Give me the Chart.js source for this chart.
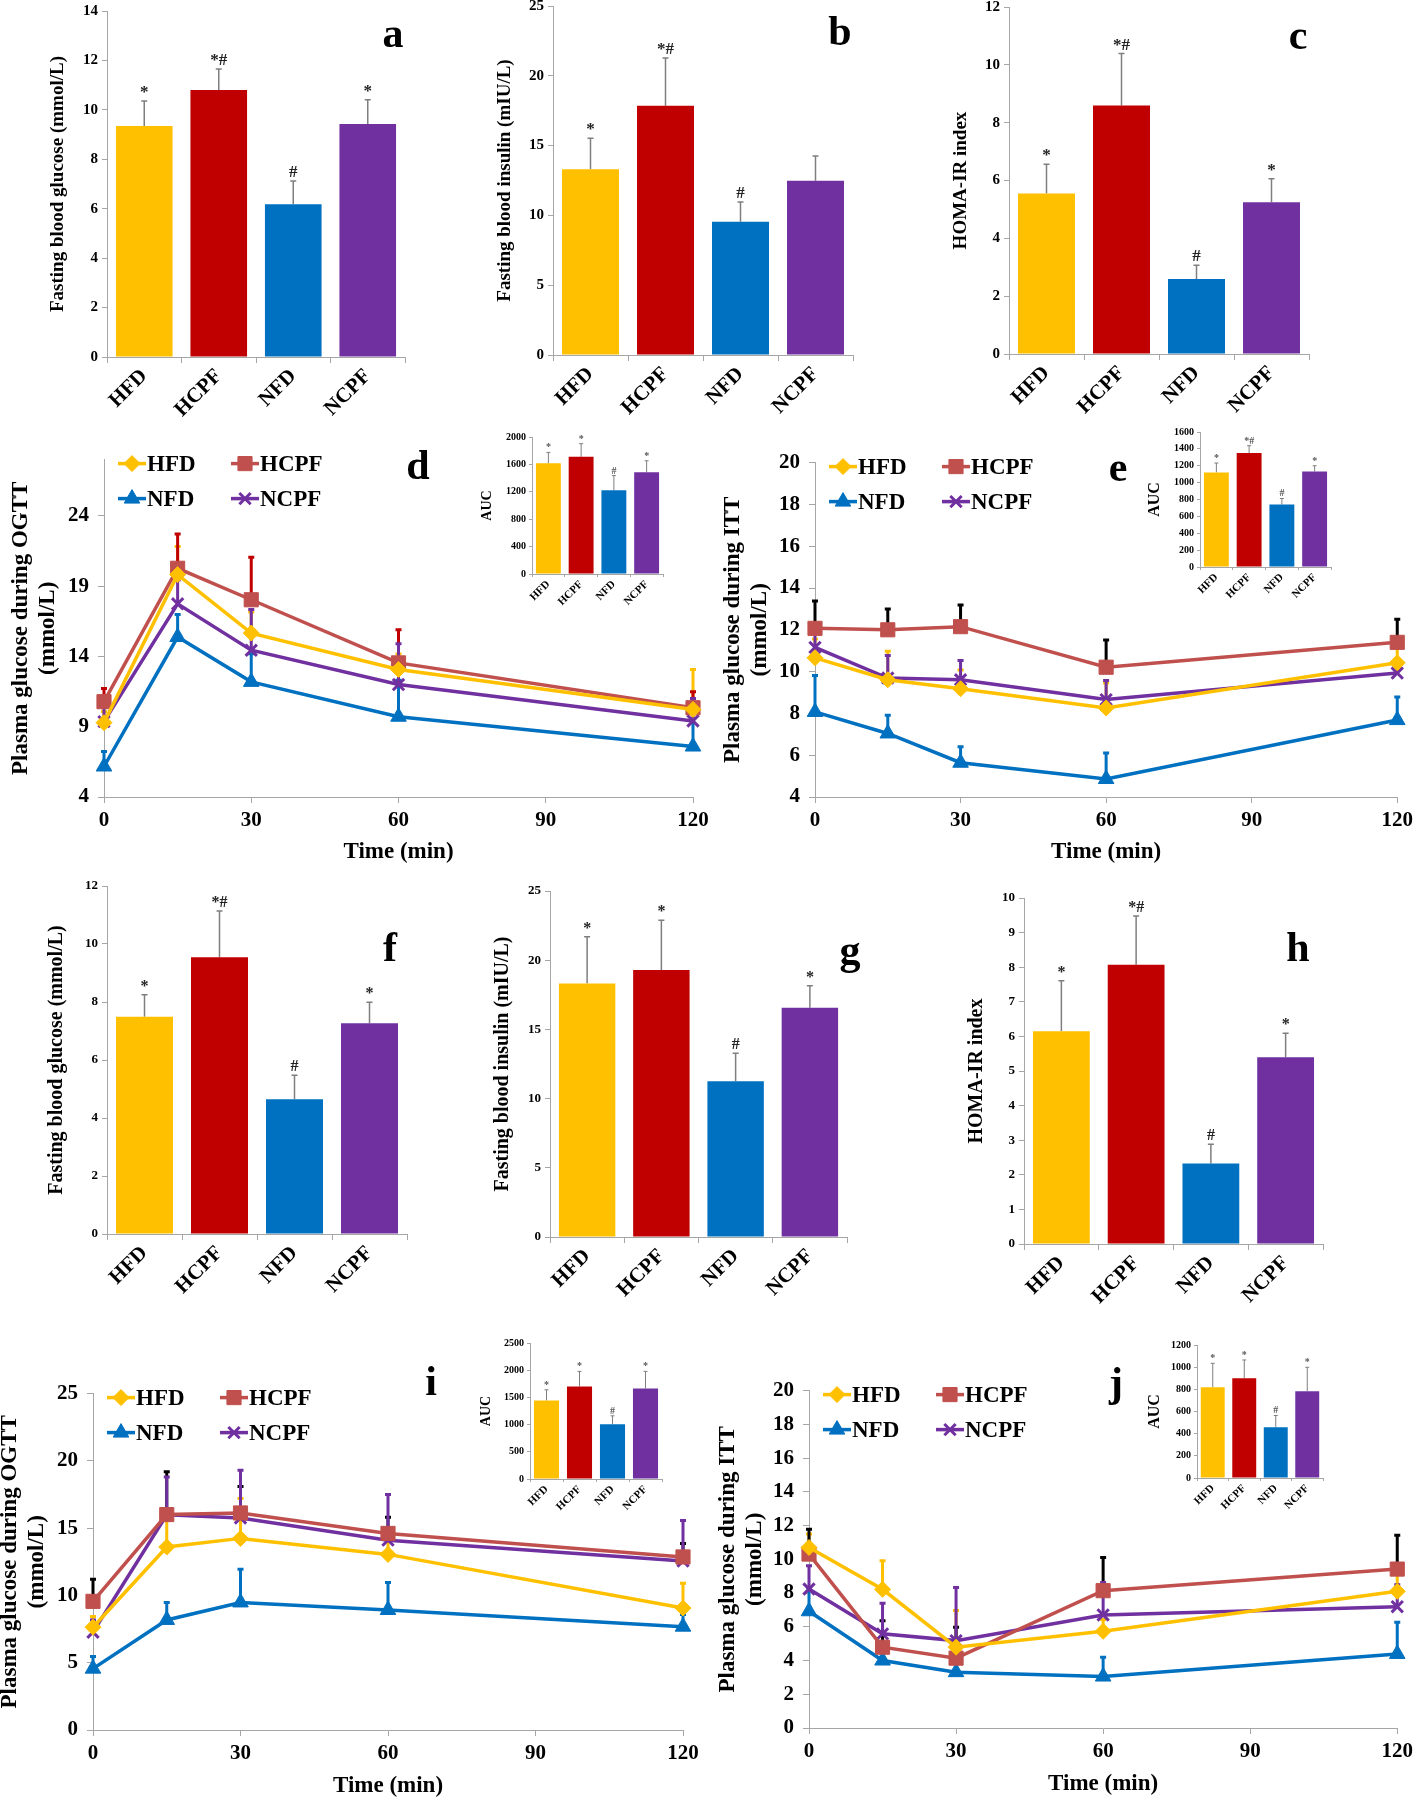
<!DOCTYPE html>
<html lang="en">
<head>
<meta charset="UTF-8" />
<title>Glucose and insulin panels</title>
<script src="https://cdn.jsdelivr.net/npm/chart.js"></script>
<style>
  body { margin: 0; background: #fff; }
  #page { position: relative; width: 1418px; height: 1800px; overflow: hidden; }
  .box { position: absolute; }
  .box canvas { display: block; }
  .tag { position: absolute; font: bold 42px 'Liberation Serif', serif; line-height: 1; transform: translate(-50%, -50%); }
</style>
</head>
<body>
<div id="page"></div>
<script>
// ---------------- DATA ----------------
const groups = ['HFD', 'HCPF', 'NFD', 'NCPF'];
const times = [0, 15, 30, 60, 120];

// first cohort (a, b, c)
const glucose1 = [9.35, 10.80, 6.18, 9.43];
const glucose1Err = [1.01, 0.85, 0.94, 0.98];
const glucose1Marks = ['*', '*#', '#', '*'];
const insulin1 = [13.30, 17.86, 9.55, 12.49];
const insulin1Err = [2.22, 3.42, 1.41, 1.77];
const insulin1Marks = ['*', '*#', '#', ''];
const homa1 = [5.55, 8.59, 2.59, 5.25];
const homa1Err = [1.01, 1.80, 0.48, 0.81];
const homa1Marks = ['*', '*#', '#', '*'];

// OGTT / ITT first cohort (d, e) - rows follow groups
const ogtt1Mean = [
  [9.29, 19.82, 15.66, 13.07, 10.23],
  [10.78, 20.27, 18.03, 13.54, 10.35],
  [6.17, 15.38, 12.19, 9.71, 7.59],
  [9.36, 17.74, 14.44, 12.00, 9.41]
];
const ogtt1Err = [
  [0.8, 2.0, 1.5, 1.1, 2.84],
  [0.94, 2.43, 3.02, 2.36, 1.14],
  [1.06, 1.6, 2.0, 2.6, 2.0],
  [1.0, 1.7, 2.9, 2.9, 1.6]
];
const ogtt1Ticks = [4, 9, 14, 19, 24];
const ogtt1Auc = [1615, 1711, 1222, 1486];
const ogtt1AucErr = [160, 191, 215, 167];
const ogtt1AucMarks = ['*', '*', '#', '*'];

const itt1Mean = [
  [10.66, 9.61, 9.18, 8.26, 10.42],
  [12.07, 12.00, 12.15, 10.21, 11.40],
  [8.07, 7.04, 5.64, 4.86, 7.68],
  [11.16, 9.69, 9.61, 8.66, 9.93]
];
const itt1Err = [
  [0.9, 1.36, 0.9, 1.2, 1.06],
  [1.31, 0.99, 1.04, 1.30, 1.11],
  [1.74, 0.87, 0.77, 1.24, 1.11],
  [0.9, 1.08, 0.92, 0.92, 0.5]
];
const itt1Ticks = [4, 6, 8, 10, 12, 14, 16, 18, 20];
const itt1Auc = [1121, 1350, 741, 1133];
const itt1AucErr = [111, 88, 71, 67];
const itt1AucMarks = ['*', '*#', '#', '*'];

// second cohort (f, g, h)
const glucose2 = [7.49, 9.54, 4.65, 7.27];
const glucose2Err = [0.76, 1.60, 0.82, 0.72];
const glucose2Marks = ['*', '*#', '#', '*'];
const insulin2 = [18.32, 19.29, 11.26, 16.56];
const insulin2Err = [3.38, 3.59, 2.02, 1.59];
const insulin2Marks = ['*', '*', '#', '*'];
const homa2 = [6.15, 8.07, 2.33, 5.40];
const homa2Err = [1.46, 1.41, 0.55, 0.69];
const homa2Marks = ['*', '*#', '#', '*'];

// OGTT / ITT second cohort (i, j)
const ogtt2Mean = [
  [7.64, 13.60, 14.24, 13.05, 9.06],
  [9.56, 16.01, 16.13, 14.61, 12.86],
  [4.56, 8.18, 9.48, 8.92, 7.68],
  [7.27, 16.00, 15.76, 14.11, 12.56]
];
const ogtt2Err = [
  [0.8, 2.0, 2.96, 1.5, 1.84],
  [1.64, 3.19, 1.97, 1.2, 1.0],
  [0.91, 1.3, 2.47, 2.04, 0.9],
  [0.9, 2.8, 3.54, 3.39, 3.01]
];
const ogtt2Ticks = [0, 5, 10, 15, 20, 25];
const ogtt2Auc = [1443, 1701, 1007, 1665];
const ogtt2AucErr = [197, 277, 154, 313];
const ogtt2AucMarks = ['*', '*', '#', '*'];

const itt2Mean = [
  [10.70, 8.22, 4.79, 5.73, 8.10],
  [10.31, 4.79, 4.14, 8.14, 9.42],
  [6.92, 4.00, 3.31, 3.05, 4.39],
  [8.24, 5.58, 5.18, 6.70, 7.19]
];
const itt2Err = [
  [0.8, 1.69, 2.17, 0.7, 1.0],
  [1.47, 1.57, 1.83, 1.97, 2.01],
  [1.4, 0.6, 0.7, 1.15, 1.88],
  [1.38, 1.81, 3.15, 1.93, 1.3]
];
const itt2Ticks = [0, 2, 4, 6, 8, 10, 12, 14, 16, 18, 20];
const itt2Auc = [819, 900, 459, 783];
const itt2AucErr = [216, 165, 105, 216];
const itt2AucMarks = ['*', '*', '#', '*'];

// ---------------- STYLE ----------------
const barColors = ['#FFC000', '#C00000', '#0070C0', '#7030A0'];
const lineColors = ['#FFC000', '#C0504D', '#0070C0', '#7030A0'];
const markers = ['rectRot', 'rect', 'triangle', 'crossRot'];
const markerSizes = [8, 10, 9, 8];
const axisGray = '#a6a6a6';

Chart.defaults.font.family = "'Liberation Serif', 'Times New Roman', serif";
Chart.defaults.font.weight = 'bold';
Chart.defaults.color = '#000';

const page = document.getElementById('page');

// error bars (upper half only) and significance marks
const errPlugin = {
  id: 'errbars',
  beforeDatasetsDraw(chart, args, opts) {
    const ctx = chart.ctx, ys = chart.scales.y;
    ctx.save();
    chart.data.datasets.forEach((ds, di) => {
      if (!ds.err) return;
      const meta = chart.getDatasetMeta(di);
      ctx.strokeStyle = ds.errColor || opts.color;
      ctx.lineWidth = opts.width;
      meta.data.forEach((el, i) => {
        const raw = ds.data[i];
        const v = typeof raw === 'object' ? raw.y : raw;
        const y0 = ys.getPixelForValue(v);
        const y1 = ys.getPixelForValue(v + ds.err[i]);
        ctx.beginPath();
        ctx.moveTo(el.x, y0);
        ctx.lineTo(el.x, y1);
        ctx.moveTo(el.x - opts.cap, y1);
        ctx.lineTo(el.x + opts.cap, y1);
        ctx.stroke();
      });
    });
    ctx.restore();
  },
  afterDatasetsDraw(chart, args, opts) {
    const ctx = chart.ctx, ys = chart.scales.y;
    ctx.save();
    ctx.font = 'bold ' + (opts.markSize || 14) + "px 'Liberation Serif', serif";
    ctx.fillStyle = opts.markColor || '#222';
    ctx.textAlign = 'center';
    ctx.textBaseline = 'alphabetic';
    chart.data.datasets.forEach((ds, di) => {
      if (!ds.marks) return;
      const meta = chart.getDatasetMeta(di);
      meta.data.forEach((el, i) => {
        const top = ys.getPixelForValue(ds.data[i] + ds.err[i]);
        ctx.fillText(ds.marks[i], el.x, top - (opts.markGap || 4));
      });
    });
    ctx.restore();
  }
};

// 2x2 key drawn inside the plot area
const keyPlugin = {
  id: 'key',
  afterDraw(chart, args, o) {
    if (!o.show) return;
    const { ctx, chartArea } = chart;
    ctx.save();
    ctx.font = "bold 23px 'Liberation Serif', serif";
    ctx.textBaseline = 'middle';
    chart.data.datasets.forEach((ds, k) => {
      const x = chartArea.left + o.dx + (k % 2) * o.colW;
      const y = chartArea.top + o.dy + Math.floor(k / 2) * o.rowH;
      ctx.strokeStyle = ds.borderColor;
      ctx.lineWidth = 3.5;
      ctx.beginPath();
      ctx.moveTo(x - 14, y);
      ctx.lineTo(x + 14, y);
      ctx.stroke();
      ctx.fillStyle = ds.pointBackgroundColor;
      ctx.strokeStyle = ds.pointBorderColor;
      ctx.lineWidth = ds.pointBorderWidth;
      if (Chart.helpers && Chart.helpers.drawPoint) {
        Chart.helpers.drawPoint(ctx, { pointStyle: ds.pointStyle, rotation: 0, radius: ds.pointRadius, borderWidth: ds.pointBorderWidth }, x, y);
      }
      ctx.fillStyle = '#000';
      ctx.fillText(ds.label, x + 15, y + 1);
    });
    ctx.restore();
  }
};

function makeCanvas(box) {
  const div = document.createElement('div');
  div.className = 'box';
  div.style.left = box.l + 'px';
  div.style.top = box.t + 'px';
  const c = document.createElement('canvas');
  c.width = box.r - box.l;
  c.height = box.b - box.t;
  c.style.width = c.width + 'px';
  c.style.height = c.height + 'px';
  div.appendChild(c);
  page.appendChild(div);
  return c;
}

function frame(box, area) {
  return {
    padding: { left: 0, top: area.t - box.t, right: box.r - area.r, bottom: 0 },
    yWidth: area.l - box.l,
    xHeight: box.b - area.b
  };
}

function barChart(s) {
  const f = frame(s.box, s.area);
  return new Chart(makeCanvas(s.box), {
    type: 'bar',
    data: {
      labels: groups,
      datasets: [{
        data: s.values, err: s.err, marks: s.marks,
        backgroundColor: barColors,
        barPercentage: 0.76, categoryPercentage: 1
      }]
    },
    options: {
      responsive: false, animation: false,
      layout: { padding: f.padding },
      plugins: {
        legend: { display: false }, tooltip: { enabled: false },
        errbars: { color: '#7f7f7f', width: s.errWidth || 1.5, cap: s.cap || 3, markSize: s.markSize, markColor: s.markColor, markGap: s.markGap }
      },
      scales: {
        x: {
          grid: { drawOnChartArea: false, tickLength: s.xTick || 6, color: axisGray },
          border: { color: axisGray },
          ticks: { minRotation: 45, maxRotation: 45, font: { size: s.labelSize }, padding: 1 },
          afterFit: sc => { sc.height = f.xHeight; }
        },
        y: {
          min: 0, max: s.yMax,
          ticks: { stepSize: s.yStep, font: { size: s.tickSize }, padding: s.tickPad || 4, callback: v => String(v) },
          grid: { drawOnChartArea: false, tickLength: s.yTick || 5, color: axisGray },
          border: { color: axisGray },
          title: { display: true, text: s.title, font: { size: s.titleSize }, padding: 0 },
          afterFit: sc => { sc.width = f.yWidth; }
        }
      }
    },
    plugins: [errPlugin]
  });
}

function lineChart(s) {
  const f = frame(s.box, s.area);
  const datasets = groups.map((g, k) => ({
    label: g,
    data: times.map((t, i) => ({ x: t, y: s.mean[k][i] })),
    err: s.err[k],
    errColor: s.errColors[k],
    clip: false,
    borderColor: lineColors[k],
    backgroundColor: lineColors[k],
    borderWidth: 3.5,
    pointStyle: markers[k],
    pointRadius: markerSizes[k],
    pointBorderWidth: k === 3 ? 3 : 1,
    pointBackgroundColor: lineColors[k],
    pointBorderColor: lineColors[k]
  }));
  return new Chart(makeCanvas(s.box), {
    type: 'line',
    data: { datasets },
    options: {
      responsive: false, animation: false,
      layout: { padding: f.padding },
      plugins: {
        legend: { display: false }, tooltip: { enabled: false },
        errbars: { color: '#000', width: 3, cap: 3 },
        key: { show: true, dx: 28, dy: 4, colW: 113, rowH: 35 }
      },
      scales: {
        x: {
          type: 'linear', min: 0, max: 120,
          ticks: { stepSize: 30, font: { size: 21 }, padding: 5, maxRotation: 0 },
          grid: { drawOnChartArea: false, tickLength: 6, color: axisGray },
          border: { color: axisGray },
          title: { display: true, text: 'Time (min)', font: { size: 23 }, padding: 0 },
          afterFit: sc => { sc.height = f.xHeight; }
        },
        y: {
          min: s.yMin, max: s.yMax,
          afterBuildTicks: sc => { sc.ticks = s.yTicks.map(v => ({ value: v })); },
          ticks: { font: { size: 21 }, padding: 9 },
          grid: { drawOnChartArea: false, tickLength: 6, color: axisGray },
          border: { color: axisGray },
          title: { display: true, text: [s.title, '(mmol/L)'], font: { size: 23 }, padding: 0 },
          afterFit: sc => { sc.width = f.yWidth; }
        }
      }
    },
    plugins: [errPlugin, keyPlugin]
  });
}

function tag(letter, x, y) {
  const d = document.createElement('div');
  d.className = 'tag';
  d.textContent = letter;
  d.style.left = x + 'px';
  d.style.top = y + 'px';
  page.appendChild(d);
}

// ---------------- PANELS ----------------
// a
barChart({ box: { l: 47, t: -4, r: 440, b: 420 }, area: { l: 107, t: 11, r: 405, b: 357 },
  values: glucose1, err: glucose1Err, marks: glucose1Marks, yMax: 14, yStep: 2,
  title: 'Fasting blood glucose (mmol/L)', titleSize: 19, tickSize: 15, labelSize: 21, markSize: 17 });
// b
barChart({ box: { l: 494, t: -8, r: 890, b: 420 }, area: { l: 553, t: 6, r: 853, b: 355 },
  values: insulin1, err: insulin1Err, marks: insulin1Marks, yMax: 25, yStep: 5,
  title: 'Fasting blood insulin (mIU/L)', titleSize: 19, tickSize: 15, labelSize: 21, markSize: 17 });
// c
barChart({ box: { l: 950, t: -7, r: 1345, b: 420 }, area: { l: 1009, t: 7, r: 1309, b: 354 },
  values: homa1, err: homa1Err, marks: homa1Marks, yMax: 12, yStep: 2,
  title: 'HOMA-IR index', titleSize: 19, tickSize: 15, labelSize: 21, markSize: 17 });

// d
lineChart({ box: { l: 7, t: 438, r: 720, b: 866 }, area: { l: 104, t: 458, r: 693, b: 797 },
  mean: ogtt1Mean, err: ogtt1Err, yMin: 4, yMax: 28, yTicks: ogtt1Ticks,
  errColors: ['#FFC000', '#C00000', '#0070C0', '#7030A0'], title: 'Plasma glucose during OGTT' });
barChart({ box: { l: 479, t: 425, r: 680, b: 608 }, area: { l: 532, t: 437, r: 663, b: 574 },
  values: ogtt1Auc, err: ogtt1AucErr, marks: ogtt1AucMarks, yMax: 2000, yStep: 400,
  title: 'AUC', titleSize: 14, tickSize: 10, labelSize: 11, markSize: 10, markColor: '#555',
  errWidth: 1, cap: 2, xTick: 3, yTick: 3, tickPad: 3, markGap: 2 });

// e
lineChart({ box: { l: 719, t: 441, r: 1418, b: 866 }, area: { l: 815, t: 461, r: 1401, b: 797 },
  mean: itt1Mean, err: itt1Err, yMin: 4, yMax: 20, yTicks: itt1Ticks,
  errColors: ['#FFC000', '#000000', '#0070C0', '#7030A0'], title: 'Plasma glucose during ITT' });
barChart({ box: { l: 1145, t: 420, r: 1350, b: 600 }, area: { l: 1200, t: 432, r: 1331, b: 567 },
  values: itt1Auc, err: itt1AucErr, marks: itt1AucMarks, yMax: 1600, yStep: 200,
  title: 'AUC', titleSize: 16, tickSize: 10, labelSize: 11, markSize: 10, markColor: '#555',
  errWidth: 1, cap: 2, xTick: 3, yTick: 3, tickPad: 3, markGap: 2 });

// f
barChart({ box: { l: 45, t: 872, r: 440, b: 1295 }, area: { l: 107, t: 886, r: 407, b: 1234 },
  values: glucose2, err: glucose2Err, marks: glucose2Marks, yMax: 12, yStep: 2,
  title: 'Fasting blood glucose (mmol/L)', titleSize: 20, tickSize: 13, labelSize: 21, markSize: 16 });
// g
barChart({ box: { l: 491, t: 876, r: 880, b: 1298 }, area: { l: 550, t: 891, r: 847, b: 1237 },
  values: insulin2, err: insulin2Err, marks: insulin2Marks, yMax: 25, yStep: 5,
  title: 'Fasting blood insulin (mIU/L)', titleSize: 20, tickSize: 13, labelSize: 21, markSize: 16 });
// h
barChart({ box: { l: 965, t: 884, r: 1360, b: 1305 }, area: { l: 1024, t: 898, r: 1323, b: 1244 },
  values: homa2, err: homa2Err, marks: homa2Marks, yMax: 10, yStep: 1,
  title: 'HOMA-IR index', titleSize: 20, tickSize: 13, labelSize: 21, markSize: 16 });

// i
lineChart({ box: { l: -4, t: 1372, r: 715, b: 1800 }, area: { l: 93, t: 1392, r: 683, b: 1730 },
  mean: ogtt2Mean, err: ogtt2Err, yMin: 0, yMax: 25, yTicks: ogtt2Ticks,
  errColors: ['#FFC000', '#000000', '#0070C0', '#7030A0'], title: 'Plasma glucose during OGTT' });
barChart({ box: { l: 478, t: 1330, r: 680, b: 1515 }, area: { l: 530, t: 1343, r: 662, b: 1479 },
  values: ogtt2Auc, err: ogtt2AucErr, marks: ogtt2AucMarks, yMax: 2500, yStep: 500,
  title: 'AUC', titleSize: 14, tickSize: 10, labelSize: 11, markSize: 10, markColor: '#555',
  errWidth: 1, cap: 2, xTick: 3, yTick: 3, tickPad: 3, markGap: 2 });

// j
lineChart({ box: { l: 714, t: 1369, r: 1418, b: 1798 }, area: { l: 809, t: 1389, r: 1399, b: 1728 },
  mean: itt2Mean, err: itt2Err, yMin: 0, yMax: 20, yTicks: itt2Ticks,
  errColors: ['#FFC000', '#000000', '#0070C0', '#7030A0'], title: 'Plasma glucose during ITT' });
barChart({ box: { l: 1145, t: 1332, r: 1345, b: 1512 }, area: { l: 1197, t: 1345, r: 1323, b: 1478 },
  values: itt2Auc, err: itt2AucErr, marks: itt2AucMarks, yMax: 1200, yStep: 200,
  title: 'AUC', titleSize: 16, tickSize: 10, labelSize: 11, markSize: 10, markColor: '#555',
  errWidth: 1, cap: 2, xTick: 3, yTick: 3, tickPad: 3, markGap: 2 });

// panel letters
tag('a', 393, 33); tag('b', 840, 31); tag('c', 1298, 35);
tag('d', 418, 465); tag('e', 1118, 467);
tag('f', 390, 947); tag('g', 850, 950); tag('h', 1298, 947);
tag('i', 431, 1381); tag('j', 1116, 1382);
</script>
</body>
</html>
